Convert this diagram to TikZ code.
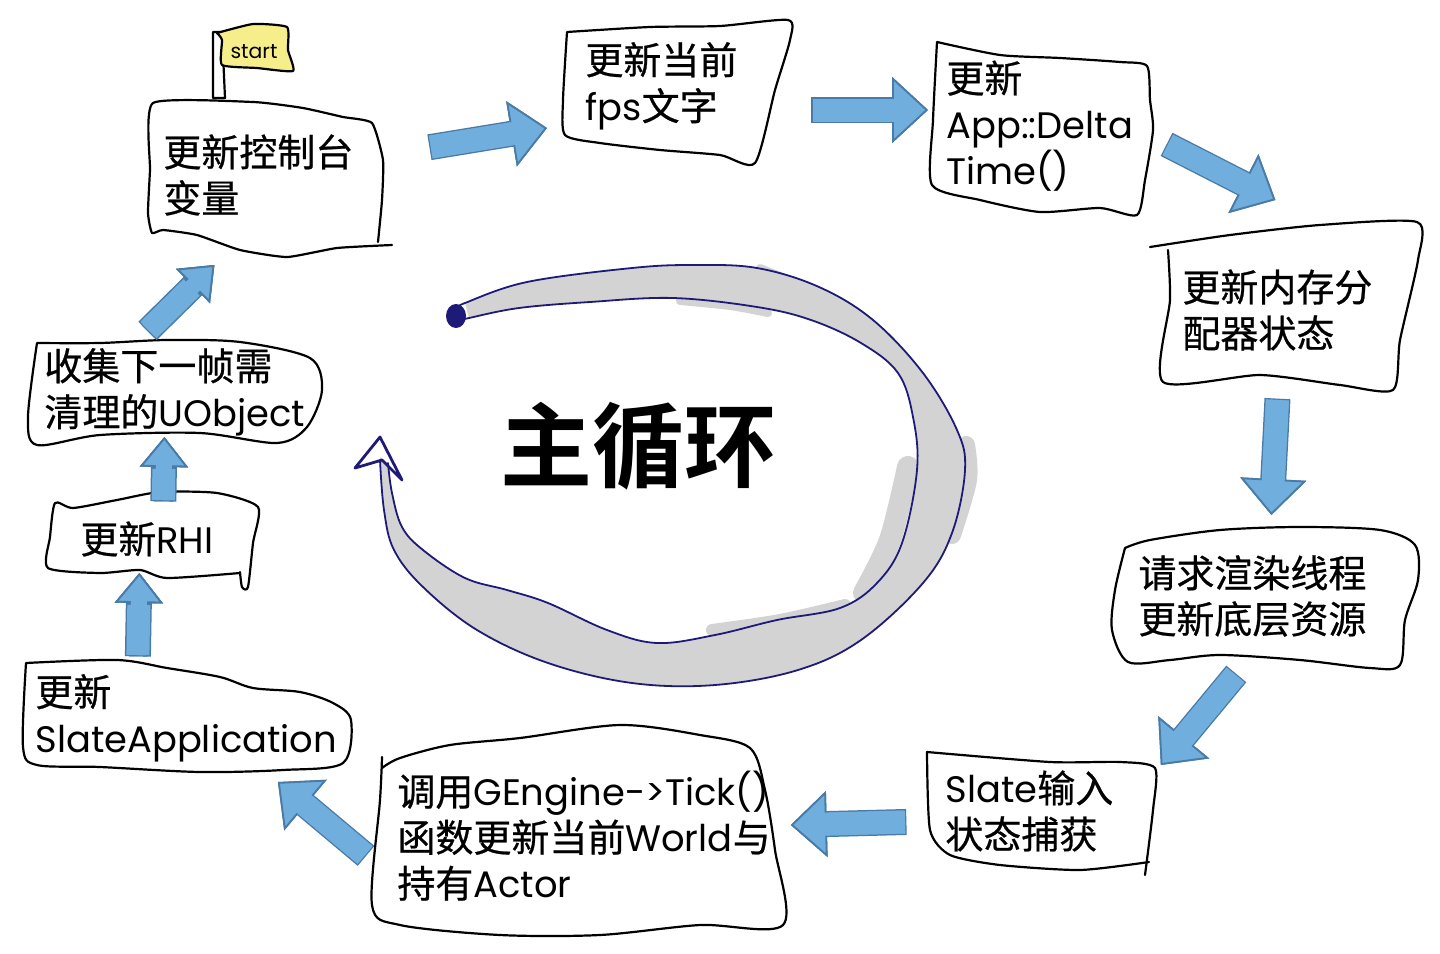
\documentclass[tikz,border=0pt]{standalone}
\usepackage{fontspec}
\usepackage{tikz}
\usetikzlibrary{arrows.meta}
\setmainfont[Scale=0.97]{Poppins}
\newfontfamily\cjk[FakeBold=0.6]{Noto Sans CJK SC}
\newfontfamily\cjkbig[BoldFont={Noto Sans CJK SC Bold}]{Noto Sans CJK SC}
\definecolor{flowblue}{HTML}{6FAEDD}
\definecolor{flowedge}{HTML}{4A7BA6}
\definecolor{loopgray}{HTML}{D3D3D3}
\definecolor{loopnavy}{HTML}{1E1A78}
\definecolor{flagyellow}{HTML}{F6EE8A}
\tikzset{
	box_txt/.style = {align=left, inner sep=0pt, anchor=west,
		font=\fontsize{19}{23}\selectfont},
	box_line/.style = {black, line width=1.1pt, line cap=round, line join=round},
	flow_arr/.style = {line width=11.5pt, draw=flowblue,
		-{Triangle[length=18pt, width=33pt, fill=flowblue, color=flowedge, line width=.9pt]},
		preaction = {draw=flowedge, line width=13pt, shorten <=-.7pt},
		postaction = {draw=flowblue, line width=11.5pt, arrows=-, shorten >=16pt}},
	small_arr/.style = {flow_arr, line width=8pt,
		-{Triangle[length=15pt, width=24pt, fill=flowblue, color=flowedge, line width=.9pt]},
		preaction = {draw=flowedge, line width=9.4pt, shorten <=-.7pt},
		postaction = {draw=flowblue, line width=8pt, arrows=-, shorten >=13pt}},
	loop_line/.style = {loopnavy, line width=.9pt, line cap=round, line join=round},
	gray_daub/.style = {loopgray, line cap=round, line join=round}
}
\begin{document}
\begin{tikzpicture}[x=.5pt,y=-.5pt]
\useasboundingbox (0,0) rectangle (1440,953);

% grey ribbon of the loop
\fill[loopgray] plot[smooth,tension=.6] coordinates {(465,303) (527,282) (632,268) (694,265) (757,268) (819,287) (873,320) (923,373) (957,430) (965,470) (952,533) (923,583) (861,640) (798,670) (715,685) (632,683) (548,663) (477,630) (423,587) (394,550) (384,510) (380,457)}
	-- plot[smooth,tension=.6] coordinates {(388,463) (392,493) (402,527) (423,550) (465,578) (507,590) (548,603) (607,630) (657,643) (715,635) (777,620) (840,608) (877,583) (902,543) (917,470) (913,417) (898,373) (861,343) (811,320) (757,307) (673,298) (590,302) (519,308) (469,318)} -- cycle;
\draw[gray_daub, line width=9pt] plot[smooth] coordinates {(966,445) (968,480) (952,535)};
\draw[gray_daub, line width=11pt] plot[smooth] coordinates {(908,467) (890,540) (864,593)};
\draw[gray_daub, line width=6pt] plot[smooth] coordinates {(712,630) (780,620) (845,605)};
\draw[gray_daub, line width=4pt] plot[smooth] coordinates {(680,301) (730,306) (768,313)};
\draw[gray_daub, line width=4pt] plot[smooth] coordinates {(760,268) (785,278)};

% navy outline of the loop
\draw[loop_line] plot[smooth,tension=.6] coordinates {(458,308) (465,303) (527,282) (632,268) (694,265) (757,268) (819,287) (873,320) (923,373) (957,430) (965,470) (952,533) (923,583) (861,640) (798,670) (715,685) (632,683) (548,663) (477,630) (423,587) (394,550) (384,510) (380,460)};
\draw[loop_line] plot[smooth,tension=.6] coordinates {(462,320) (469,318) (519,308) (590,302) (673,298) (757,307) (811,320) (861,343) (898,373) (913,417) (917,470) (902,543) (877,583) (840,608) (777,620) (715,635) (657,643) (607,630) (548,603) (507,590) (465,578) (423,550) (402,527) (392,493) (388,463)};
\fill[loopnavy] (456,316) ellipse (10 and 12);
\draw[loop_line, line width=1.4pt] (380,437) -- (355,468) -- (382,460) -- (402,480) -- cycle;

% flag on the first box
\draw[box_line, fill=white] (213,98) -- (213,32) -- (222,32) -- (225,98) -- cycle;
\draw[box_line, fill=flagyellow] plot[smooth,tension=.3] coordinates {(217,33) (253,24) (287,27) (288,50) (293,71) (257,68) (222,65) (222,40) (217,33)};

% boxes
\draw[box_line] plot[smooth,tension=.3] coordinates {(378,242) (382,200) (383,160) (372,123) (343,117) (303,108) (253,102) (153,103) (150,170) (148,213) (152,233) (163,230) (197,235) (240,250) (287,257) (337,248) (392,245)};
\draw[box_line] plot[smooth,tension=.4] coordinates {(567,32) (650,27) (720,26) (788,20) (790,40) (775,90) (755,163) (720,155) (660,150) (600,143) (565,135) (563,100) (567,32)};
\draw[box_line] plot[smooth,tension=.4] coordinates {(937,42) (1000,55) (1060,58) (1120,62) (1147,66) (1150,100) (1153,130) (1145,180) (1137,215) (1100,208) (1040,212) (980,200) (932,185) (933,120) (937,42)};
\draw[box_line] plot[smooth,tension=.4] coordinates {(1150,247) (1230,235) (1320,225) (1417,222) (1418,260) (1400,340) (1393,390) (1340,385) (1260,375) (1163,382) (1170,300) (1168,250)};
\draw[box_line] plot[smooth,tension=.5] coordinates {(1125,548) (1150,540) (1220,530) (1300,527) (1380,530) (1415,545) (1418,580) (1405,620) (1400,665) (1370,668) (1300,660) (1220,655) (1170,660) (1128,662) (1112,630) (1115,590) (1125,548)};
\draw[box_line] plot[smooth,tension=.4] coordinates {(927,752) (1050,762) (1120,762) (1155,768) (1153,810) (1145,875)};
\draw[box_line] plot[smooth,tension=.4] coordinates {(1149,862) (1080,870) (1000,865) (950,855) (930,830) (927,752)};
\draw[box_line] plot[smooth,tension=.5] coordinates {(382,768) (400,758) (450,745) (520,738) (620,725) (700,735) (750,748) (765,790) (775,850) (783,925) (700,925) (600,935) (500,935) (400,925) (372,905) (380,800) (382,757)};
\draw[box_line] plot[smooth,tension=.5] coordinates {(26,663) (117,660) (167,668) (220,677) (253,688) (300,692) (333,703) (351,720) (343,763) (283,770) (200,772) (100,767) (37,765) (23,747) (26,663)};
\draw[box_line] plot[smooth,tension=.4] coordinates {(240,572) (242,587) (248,587) (253,543) (258,507) (217,493) (160,492) (117,500) (73,508) (55,503) (50,537) (48,568) (100,573) (140,570) (167,578) (240,573)};
\draw[box_line] plot[smooth,tension=.5] coordinates {(37,343) (100,343) (167,340) (240,342) (310,358) (322,390) (307,427) (277,443) (200,433) (100,435) (37,445) (28,417) (37,343)};

% texts
\node [box_txt, text width=110pt] (console_n) at (163,175) {{\cjk 更新控制台}\\{\cjk 变量}};
\node [box_txt, text width=97.5pt] (fps_n) at (585,86) {{\cjk 更新当前}\\fps{\cjk 文字}};
\node [box_txt, text width=102.5pt] (delta_n) at (946,126) {{\cjk 更新}\\App::Delta\\Time()};
\node [box_txt, text width=110pt] (mem_n) at (1182,310) {{\cjk 更新内存分}\\{\cjk 配器状态}};
\node [box_txt, text width=135pt] (render_n) at (1138,596) {{\cjk 请求渲染线程}\\{\cjk 更新底层资源}};
\node [box_txt, text width=102.5pt] (input_n) at (945,811) {Slate{\cjk 输入}\\{\cjk 状态捕获}};
\node [box_txt, text width=187.5pt] (tick_n) at (397,836) {{\cjk 调用}\mbox{GEngine->Tick()}\\{\cjk 函数更新当前}World{\cjk 与}\\{\cjk 持有}Actor};
\node [box_txt, text width=157.5pt] (slate_n) at (35,718) {{\cjk 更新}\\SlateApplication};
\node [box_txt, text width=85pt] (rhi_n) at (80,539) {{\cjk 更新}RHI};
\node [box_txt, text width=139pt] (gc_n) at (44,392) {{\cjk 收集下一帧需}\\{\cjk 清理的}UObject};
\node [inner sep=0pt, font=\fontsize{10.5}{12}\selectfont] (start_n) at (254,52) {start};
\node [inner sep=0pt, font=\cjkbig\bfseries\fontsize{46}{50}\selectfont] (title_n) at (638,446) {主循环};

% arrows
\draw[flow_arr] ([shift={(47,-28)}]console_n.east) -- ([shift={(-38,42)}]fps_n.west);
\draw[flow_arr] ([shift={(32,24)}]fps_n.east) -- ([shift={(-18,-16)}]delta_n.west);
\draw[flow_arr] ([shift={(16,19)}]delta_n.east) -- ([shift={(-17,-110)}]mem_n.center);
\draw[flow_arr] ([shift={(-15,90)}]mem_n.center) -- ([shift={(-2,-81)}]render_n.center);
\draw[flow_arr] ([shift={(-38,79)}]render_n.center) -- ([shift={(10,-46)}]input_n.east);
\draw[flow_arr] ([shift={(-40,11)}]input_n.west) -- ([shift={(18,-11)}]tick_n.east);
\draw[flow_arr] ([shift={(-32,19)}]tick_n.west) -- ([shift={(85,64)}]slate_n.center);
\draw[small_arr] ([shift={(-55,-63)}]slate_n.center) -- ([shift={(-26,34)}]rhi_n.center);
\draw[small_arr] ([shift={(-2,-39)}]rhi_n.center) -- ([shift={(-19,45)}]gc_n.center);
\draw[small_arr] ([shift={(-35,-62)}]gc_n.center) -- ([shift={(-59,90)}]console_n.center);
\end{tikzpicture}
\end{document}
